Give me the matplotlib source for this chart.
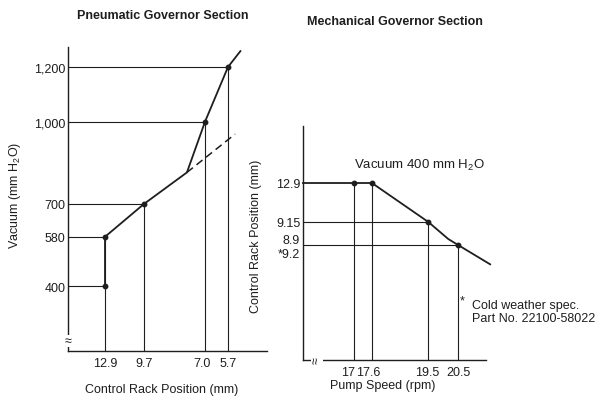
import numpy as np
import matplotlib
matplotlib.use('Agg')
import matplotlib.pyplot as plt
from matplotlib.transforms import blended_transform_factory, ScaledTranslation

plt.rcParams['font.family'] = ['Liberation Sans', 'DejaVu Sans']
plt.rcParams['mathtext.fontset'] = 'custom'
plt.rcParams['mathtext.rm'] = 'Liberation Sans'
ink = '#1e1e1e'

# --- pneumatic governor: vacuum (mm H2O) vs control rack position (mm)
vac_ticks = [400, 580, 700, 1000, 1200]
vac_labels = ['400', '580', '700', '1,000', '1,200']
rack_ticks = [12.9, 9.7, 7.0, 5.7]
rack_labels = ['12.9', '9.7', '7.0', '5.7']
pn_rack = [12.9, 12.9, 9.7, 7.0, 5.7]
pn_vac = [400, 580, 700, 1000, 1200]
pn_curve_rack = [12.9, 12.9, 9.7, 7.8, 7.0, 5.7, 5.0]
pn_curve_vac = [400, 580, 700, 815, 1000, 1200, 1258]
pn_dash_rack = [7.8, 5.3]
pn_dash_vac = [815, 955]

# --- mechanical governor: control rack position (mm) vs pump speed (x100 rpm)
speed_ticks = [17, 17.6, 19.5, 20.5]
speed_labels = ['17', '17.6', '19.5', '20.5']
mech_rack_ticks = [8.9, 9.15, 12.9]
mech_rack_labels = ['8.9\n*9.2', '9.15', '12.9']
mech_speed = [17, 17.6, 19.5, 20.5]
mech_rack = [12.9, 12.9, 9.15, 8.9]
mech_curve_speed = [15.28, 17, 17.6, 19.5, 20.17, 20.5, 21.58]
mech_curve_rack = [12.9, 12.9, 12.9, 9.15, 8.965, 8.9, 8.69]


def schematic_scale(vals, pos):
    # piecewise-linear axis (the drawing is not to scale); forward is kept increasing
    vals = np.asarray(vals, float)
    pos = np.asarray(pos, float)
    s = 1.0 if vals[-1] > vals[0] else -1.0
    fwd = lambda v: s * np.interp(s * np.asarray(v, float), s * vals, pos)
    inv = lambda p: s * np.interp(s * np.asarray(p, float), pos, s * vals)
    return fwd, inv


W, H = 607, 402
fig = plt.figure(figsize=(W / 100, H / 100), dpi=100)
fig.patch.set_facecolor('white')


def px(x, y):
    return x / W, 1 - y / H


def style(ax):
    for s in ('top', 'right'):
        ax.spines[s].set_visible(False)
    for s in ('left', 'bottom'):
        ax.spines[s].set_color(ink)
        ax.spines[s].set_linewidth(1.0)
    ax.tick_params(length=0, labelsize=9, colors=ink, pad=2)
    ax.set_facecolor('none')


def nudge(label, dx_px):
    label.set_transform(label.get_transform() + ScaledTranslation(dx_px / 100, 0, fig.dpi_scale_trans))


# left panel
ax1 = fig.add_axes([68 / W, 1 - 352 / H, 199 / W, 304 / H])
style(ax1)
ax1.set_xscale('function', functions=schematic_scale(
    [15.93, 12.9, 9.7, 7.0, 5.7, 3.5], [0, 37, 76, 137, 160, 199]))
x_lo, x_hi = 15.93, 3.5
y_lo, y_hi = 163, 1273
ax1.set_xlim(x_lo, x_hi)
ax1.set_ylim(y_lo, y_hi)
ax1.set_xticks(rack_ticks, rack_labels)
ax1.set_yticks(vac_ticks, vac_labels)
ax1.tick_params(axis='x', pad=4)
ax1.hlines(pn_vac, x_lo, pn_rack, color=ink, lw=0.8)
ax1.vlines(pn_rack[1:], y_lo, pn_vac[1:], color=ink, lw=0.8)
ax1.plot(pn_curve_rack, pn_curve_vac, color=ink, lw=1.3, clip_on=False)
ax1.plot(pn_dash_rack, pn_dash_vac, color=ink, lw=1.1, ls=(0, (5, 3)))
ax1.plot(pn_rack, pn_vac, 'o', color=ink, ms=3.2)
ax1.text(0, 199, '≈', transform=blended_transform_factory(ax1.transAxes, ax1.transData),
         ha='center', va='center', fontsize=9, color=ink,
         bbox=dict(fc='white', ec='none', pad=0))
xl1 = ax1.get_xticklabels()
nudge(xl1[2], -3)

# right panel
ax2 = fig.add_axes([303 / W, 1 - 361 / H, 183 / W, 234 / H])
style(ax2)
ax2.set_yscale('function', functions=schematic_scale(
    [7.65, 8.9, 9.15, 12.9, 18.38], [0, 115, 138, 177, 234]))
s_lo, s_hi = 15.28, 21.44
r_lo, r_hi = 7.65, 18.38
ax2.set_xlim(s_lo, s_hi)
ax2.set_ylim(r_lo, r_hi)
ax2.set_xticks(speed_ticks, speed_labels)
ax2.set_yticks(mech_rack_ticks, mech_rack_labels)
ax2.tick_params(axis='x', pad=4)
ax2.hlines(mech_rack[2:], s_lo, mech_speed[2:], color=ink, lw=0.8)
ax2.vlines(mech_speed, r_lo, mech_rack, color=ink, lw=0.8)
ax2.plot(mech_curve_speed, mech_curve_rack, color=ink, lw=1.3, clip_on=False)
ax2.plot(mech_speed, mech_rack, 'o', color=ink, ms=3.2)
ax2.text(15.75, 0, '≈', rotation=90,
         transform=blended_transform_factory(ax2.transData, ax2.transAxes),
         ha='center', va='center', fontsize=9, color=ink,
         bbox=dict(fc='white', ec='none', pad=0))
xl2 = ax2.get_xticklabels()
nudge(xl2[0], -6)
nudge(xl2[1], -4)
nudge(xl2[2], -1)

# titles, axis labels and notes
fig.text(*px(163, 16), 'Pneumatic Governor Section', ha='center', va='center',
         fontsize=9, fontweight='bold', color=ink)
fig.text(*px(395, 22), 'Mechanical Governor Section', ha='center', va='center',
         fontsize=9, fontweight='bold', color=ink)
fig.text(*px(15, 195), r'Vacuum (mm H$\mathregular{_2}$O)', rotation=90,
         ha='center', va='center', fontsize=9, color=ink)
fig.text(*px(162, 390), 'Control Rack Position (mm)', ha='center', va='center',
         fontsize=9, color=ink)
fig.text(*px(256, 236), 'Control Rack Position (mm)', rotation=90,
         ha='center', va='center', fontsize=9, color=ink)
fig.text(*px(383, 386), 'Pump Speed (rpm)', ha='center', va='center',
         fontsize=9, color=ink)
fig.text(*px(354, 165), r'Vacuum 400 mm H$\mathregular{_2}$O', ha='left', va='center',
         fontsize=9.5, color=ink)
fig.text(*px(460, 301), '*', ha='left', va='center', fontsize=9, color=ink)
fig.text(*px(472, 306), 'Cold weather spec.', ha='left', va='center',
         fontsize=9, color=ink)
fig.text(*px(472, 319), 'Part No. 22100-58022', ha='left', va='center',
         fontsize=9, color=ink)

fig.savefig('out.png', dpi=100)
